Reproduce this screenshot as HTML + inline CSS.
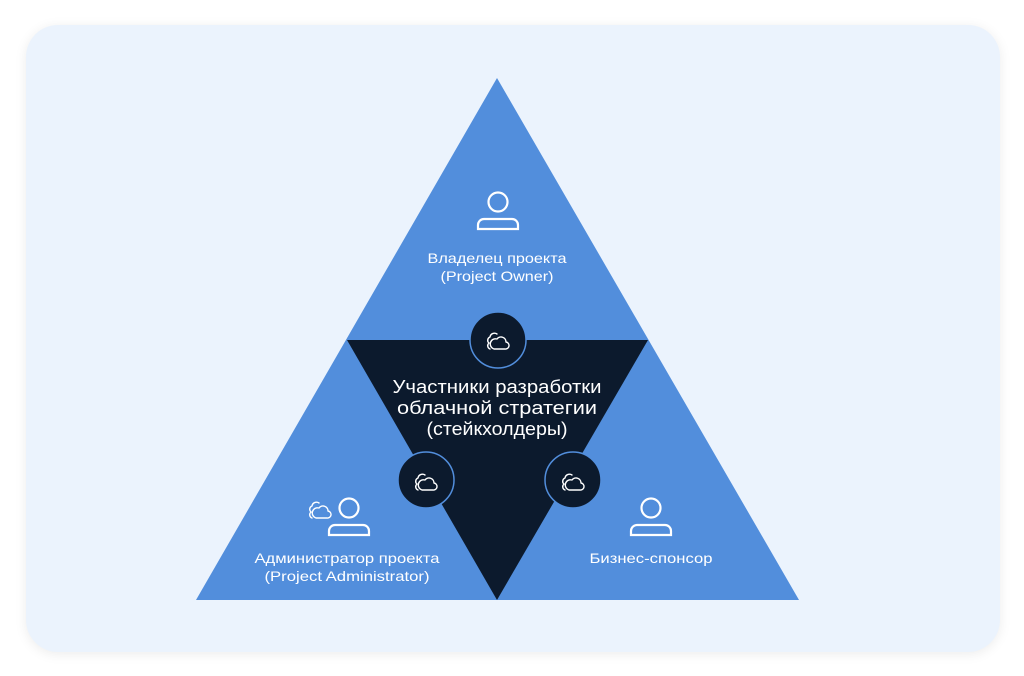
<!DOCTYPE html>
<html><head><meta charset="utf-8"><style>
html,body{margin:0;padding:0;background:#fff;}
body{width:1024px;height:676px;position:relative;overflow:hidden;font-family:"Liberation Sans",sans-serif;}
.card{position:absolute;left:26px;top:25px;width:974px;height:627px;border-radius:32px;background:#EBF3FD;box-shadow:0 2px 12px rgba(0,0,0,0.08);}
svg{position:absolute;left:0;top:0;}
</style></head><body>
<div class="card"></div>
<svg width="1024" height="676" viewBox="0 0 1024 676">
<defs>
<g id="cloud" fill="none" stroke="#fff" stroke-width="1.4" stroke-linejoin="round" stroke-linecap="round">
<path d="M-2,-6 a4.5,4.5 0 0 0 -7,3 a3.5,3.5 0 0 0 -1,6 a3.5,3.5 0 0 0 1,6"/>
<path d="M-5,9 h11 a3.5,3.5 0 0 0 1,-7 a5,5 0 0 0 -9,-3 a4,4 0 0 0 -3,10 z"/>
</g>
<g id="user" fill="none" stroke="#fff" stroke-width="2.2">
<circle cx="0" cy="-9" r="9.5"/>
<path d="M-20,18 v-4 a6,6 0 0 1 6,-6 h28 a6,6 0 0 1 6,6 v4 z"/>
</g>
</defs>
<polygon points="497,78 196,600 799,600" fill="#528EDC"/>
<polygon points="347,340 648,340 497,600" fill="#0C1A2D"/>
<circle cx="498" cy="340" r="28" fill="#0C1A2D" stroke="#528EDC" stroke-width="1.5"/>
<circle cx="426" cy="480" r="28" fill="#0C1A2D" stroke="#528EDC" stroke-width="1.5"/>
<circle cx="573" cy="480" r="28" fill="#0C1A2D" stroke="#528EDC" stroke-width="1.5"/>
<use href="#cloud" x="499" y="340"/>
<use href="#cloud" x="427" y="481"/>
<use href="#cloud" x="574" y="481"/>
<use href="#user" x="498" y="211"/>
<use href="#user" x="349" y="517"/>
<use href="#user" x="651" y="517"/>
<use href="#cloud" x="321" y="509"/>
<g fill="#fff" font-family="Liberation Sans, sans-serif" text-anchor="middle">
<text x="497" y="263" font-size="14" textLength="139" lengthAdjust="spacingAndGlyphs">Владелец проекта</text>
<text x="497" y="281" font-size="14" textLength="113" lengthAdjust="spacingAndGlyphs">(Project Owner)</text>
<text x="497" y="393" font-size="18" textLength="209" lengthAdjust="spacingAndGlyphs">Участники разработки</text>
<text x="497" y="414" font-size="18" textLength="200" lengthAdjust="spacingAndGlyphs">облачной стратегии</text>
<text x="497" y="435" font-size="18" textLength="141" lengthAdjust="spacingAndGlyphs">(стейкхолдеры)</text>
<text x="347" y="563" font-size="14" textLength="185" lengthAdjust="spacingAndGlyphs">Администратор проекта</text>
<text x="347" y="581" font-size="14" textLength="165" lengthAdjust="spacingAndGlyphs">(Project Administrator)</text>
<text x="651" y="563" font-size="14" textLength="123" lengthAdjust="spacingAndGlyphs">Бизнес-спонсор</text>
</g>
</svg>
</body></html>
